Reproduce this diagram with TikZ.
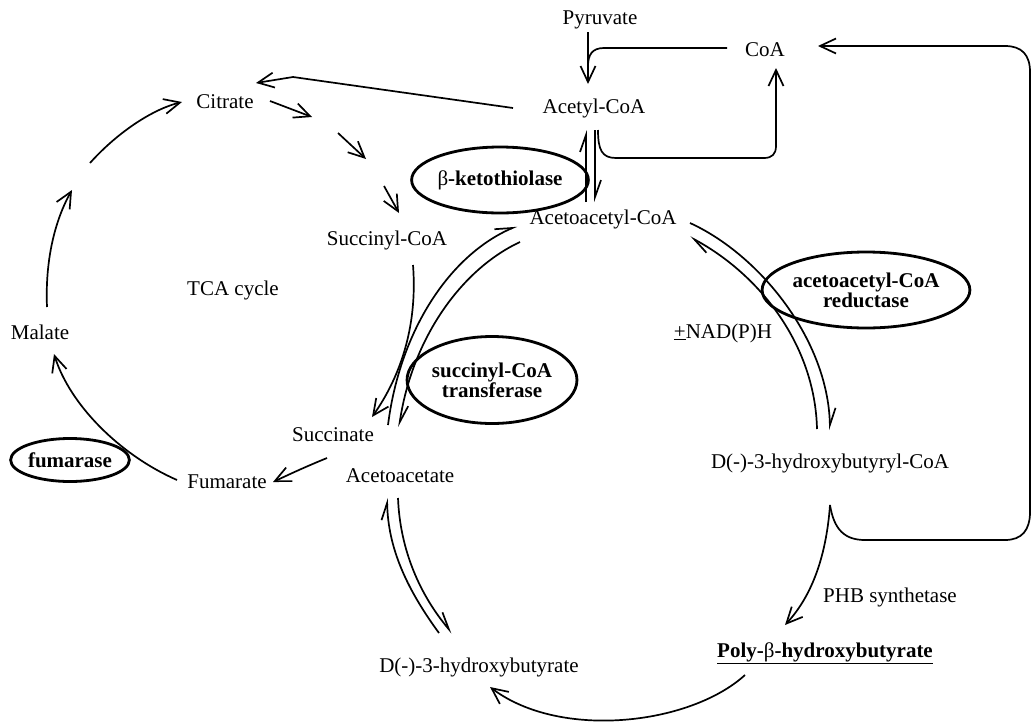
\documentclass[tikz,border=0pt]{standalone}
\usepackage{fontspec}
\setmainfont{Liberation Serif}
\usetikzlibrary{arrows.meta,shapes.geometric}
\begin{document}
\begin{tikzpicture}[x=1pt,y=-1pt,
  lbl/.style={font=\fontsize{21}{22}\selectfont, inner sep=0pt},
  enz/.style={ellipse, draw, line width=2.8pt, font=\bfseries\fontsize{21}{18}\selectfont, inner sep=0pt, align=center},
  conn/.style={line width=1.7pt},
  arr/.style={conn, -{Straight Barb[length=16pt,width=15pt,line width=1.7pt]}},
  harp/.style={conn, -{Straight Barb[harpoon,length=17pt,width=12pt,line width=1.7pt]}},
]
\useasboundingbox (0,0) rectangle (1033,726);

% nodes
\node[lbl] (pyr) at (600,20) {Pyruvate};
\node[lbl] (coa) at (765,50) {CoA};
\node[lbl] (acoa) at (594,108) {Acetyl-CoA};
\node[lbl] (aacoa) at (603,219) {Acetoacetyl-CoA};
\node[enz, minimum width=145pt, minimum height=66pt] (kt) at (500,180) {{\mdseries β}-ketothiolase};
\node[lbl] (cit) at (225,102) {Citrate};
\node[lbl] (scoa) at (387,240) {Succinyl-CoA};
\node[lbl] (tca) at (233,290) {TCA cycle};
\node[lbl] (mal) at (40,332) {Malate};
\node[enz, minimum width=114pt, minimum height=43pt] (fum) at (70,460) {fumarase};
\node[lbl] (fumt) at (227,482) {Fumarate};
\node[lbl] (succ) at (333,435) {Succinate};
\node[lbl] (aa) at (400,476) {Acetoacetate};
\node[enz, minimum width=154pt, minimum height=87pt] (sct) at (492,380) {succinyl-CoA\\transferase};
\node[enz, minimum width=180pt, minimum height=76pt] (aar) at (866,290) {acetoacetyl-CoA\\reductase};
\node[lbl] (nad) at (723,333) {\underline{+}NAD(P)H};
\node[lbl] (hbcoa) at (830,463) {D(-)-3-hydroxybutyryl-CoA};
\node[lbl] (phbs) at (890,597) {PHB synthetase};
\node[lbl, font=\bfseries\fontsize{21}{22}\selectfont] (phb) at (825,653) {\underline{Poly-{\mdseries β}-hydroxybutyrate}};
\node[lbl] (hb) at (479,667) {D(-)-3-hydroxybutyrate};

% Pyruvate / CoA -> Acetyl-CoA
\draw[arr] (588,32) -- (588,84);
\draw[conn] (727,48) -- (604,48) .. controls (592,48) and (588,55) .. (588,66);
% Acetyl-CoA -> CoA
\draw[arr] (598,130) .. controls (598,150) and (602,158) .. (616,158) -- (764,158) .. controls (772,158) and (776,154) .. (776,146) -- (776,68);
% Acetyl-CoA <=> Acetoacetyl-CoA
\draw[harp] (586,202) -- (586,130);
\draw[harp] (595,130) -- (595,202);
% Acetyl-CoA -> Citrate
\draw[arr] (513,108) -- (293,77) -- (256,83);
% TCA steps
\draw[arr] (270,101) -- (312,117);
\draw[arr] (338,133) -- (366,159);
\draw[arr] (384,186) -- (399,213);
\draw[arr] (47,307) .. controls (45,260) and (55,220) .. (72,190);
\draw[arr] (90,163) .. controls (115,135) and (150,110) .. (182,102);
\draw[arr] (177,480) .. controls (120,455) and (70,405) .. (54,354);
\draw[arr] (327,458) .. controls (305,467) and (290,474) .. (273,482);
\draw[arr] (413,265) .. controls (418,330) and (398,380) .. (372,417);
% succinyl-CoA transferase pair
\draw[harp] (388,425) .. controls (400,330) and (450,255) .. (517,226);
\draw[harp] (520,242) .. controls (460,270) and (412,340) .. (399,427);
% reductase pair
\draw[harp] (690,223) .. controls (760,255) and (828,340) .. (830,430);
\draw[harp] (817,429) .. controls (815,345) and (760,275) .. (690,237);
% PHB synthetase and CoA return
\draw[arr] (830,505) .. controls (826,560) and (810,598) .. (785,625);
\draw[arr] (830,505) .. controls (834,530) and (845,540) .. (865,540) -- (1005,540) .. controls (1022,540) and (1030,530) .. (1030,512) -- (1030,72) .. controls (1030,55) and (1022,46) .. (1005,46) -- (818,46);
% PHB -> D(-)-3-hydroxybutyrate
\draw[arr] (745,675) .. controls (690,725) and (560,740) .. (490,687);
% Acetoacetate <=> D(-)-3-hydroxybutyrate
\draw[harp] (439,633) .. controls (400,580) and (388,540) .. (387,498);
\draw[harp] (398,498) .. controls (400,550) and (420,595) .. (452,633);
\end{tikzpicture}
\end{document}
